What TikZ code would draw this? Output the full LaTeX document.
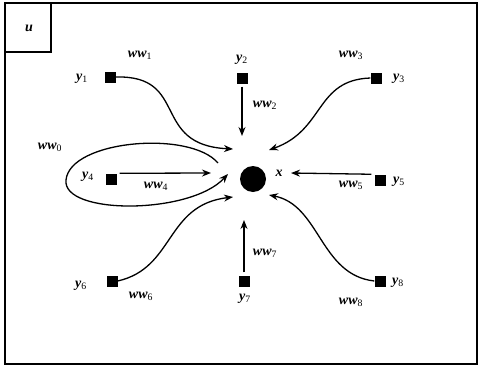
\documentclass[tikz,border=0pt]{standalone}
\usepackage{fontspec}
\setmainfont{Liberation Serif}
\usetikzlibrary{arrows.meta}
\tikzset{
  sq/.style={fill=black, minimum size=11pt, inner sep=0pt},
  lab/.style={font=\fontsize{14}{16}\selectfont\bfseries\itshape, inner sep=1pt},
  arr/.style={-{Stealth[length=9pt,width=7pt]}, line width=1.3pt},
  frame/.style={line width=1.7pt}
}
\newcommand{\lbl}[2]{#1\textsubscript{\mdseries\upshape #2}}

\begin{document}
\begin{tikzpicture}[x=1pt, y=-1pt]
  \useasboundingbox (0,0) rectangle (482,367);
  % frame and corner box
  \draw[frame] (5,3) rectangle (477,364);
  \draw[line width=1.3pt] (5,3) rectangle (51,52);
  \node[lab] (u) at (29,28) {u};

  % centre
  \node[circle, fill=black, minimum size=26pt, inner sep=0pt] (x) at (253,179) {};
  \node[lab] (xl) at (279,173) {x};

  % inputs
  \node[sq] (y1) at (110,77) {};
  \node[sq] (y2) at (242,78) {};
  \node[sq] (y3) at (376,78) {};
  \node[sq] (y4) at (111,179) {};
  \node[sq] (y5) at (380,180) {};
  \node[sq] (y6) at (112,281) {};
  \node[sq] (y7) at (244,281) {};
  \node[sq] (y8) at (380,281) {};

  \node[lab] (l1) at (82,79) {\lbl{y}{1}};
  \node[lab] (l2) at (242,60) {\lbl{y}{2}};
  \node[lab] (l3) at (399,79) {\lbl{y}{3}};
  \node[lab] (l4) at (88,177) {\lbl{y}{4}};
  \node[lab] (l5) at (399,182) {\lbl{y}{5}};
  \node[lab] (l6) at (81,286) {\lbl{y}{6}};
  \node[lab] (l7) at (245,299) {\lbl{y}{7}};
  \node[lab] (l8) at (398,283) {\lbl{y}{8}};

  % weights
  \node[lab] (w0) at (50,147) {\lbl{ww}{0}};
  \node[lab] (w1) at (140,55) {\lbl{ww}{1}};
  \node[lab] (w2) at (265,105) {\lbl{ww}{2}};
  \node[lab] (w3) at (351,55) {\lbl{ww}{3}};
  \node[lab] (w4) at (156,186) {\lbl{ww}{4}};
  \node[lab] (w5) at (351,185) {\lbl{ww}{5}};
  \node[lab] (w6) at (141,296) {\lbl{ww}{6}};
  \node[lab] (w7) at (265,253) {\lbl{ww}{7}};
  \node[lab] (w8) at (351,302) {\lbl{ww}{8}};

  % arrow ends
  \coordinate (in1) at (233,149);
  \coordinate (in2) at (242,136);
  \coordinate (in3) at (269,150);
  \coordinate (in4) at (211,173);
  \coordinate (in5) at (291,173);
  \coordinate (in6) at (233,197);
  \coordinate (in7) at (244,220);
  \coordinate (in8) at (269,195);
  \coordinate (lp0) at (218,163);
  \coordinate (lp1) at (228,174);

  \draw[arr] (y1.east) .. controls (190,75) and (150,145) .. (in1);
  \draw[arr, shorten <=3pt] (y2.south) -- (in2);
  \draw[arr] (y3.west) .. controls (315,80) and (325,130) .. (in3);
  \draw[arr, shorten <=3pt] (y4.north east) -- (in4);
  \draw[arr, shorten <=3pt] (y5.north west) -- (in5);
  \draw[arr] (y6.east) .. controls (175,268) and (165,205) .. (in6);
  \draw[arr, shorten <=3pt] (y7.north) -- (in7);
  \draw[arr] (y8.west) .. controls (320,275) and (320,205) .. (in8);
  \draw[arr] (lp0) .. controls (190,130) and (70,140) .. (66,180)
    .. controls (62,215) and (190,215) .. (lp1);
\end{tikzpicture}
\end{document}
